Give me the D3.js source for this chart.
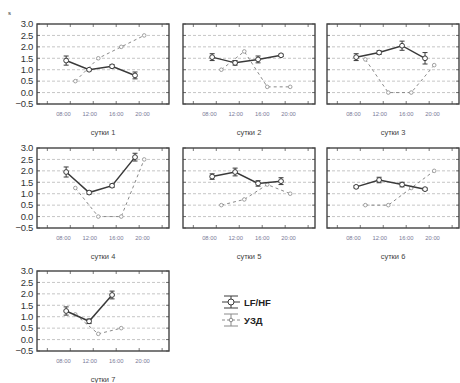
<!DOCTYPE html>
<html>
<head>
<meta charset="utf-8">
<script src="https://cdn.jsdelivr.net/npm/d3@7"></script>
<style>
  body { margin: 0; background: #fff; }
  svg { display: block; }
</style>
</head>
<body>
<div id="chart"></div>
<script>
// values
const days = ["сутки 1", "сутки 2", "сутки 3", "сутки 4", "сутки 5", "сутки 6", "сутки 7"];
const times = ["08:00", "12:00", "16:00", "20:00"];
const yTicks = [-0.5, 0, 0.5, 1.0, 1.5, 2.0, 2.5, 3.0];

const lfhf = [
  [1.4, 1.0, 1.15, 0.75],
  [1.55, 1.3, 1.45, 1.63],
  [1.55, 1.75, 2.05, 1.5],
  [1.95, 1.05, 1.35, 2.6],
  [1.75, 1.95, 1.45, 1.55],
  [1.3, 1.6, 1.4, 1.2],
  [1.25, 0.8, 1.95, null]
];
const lfhfErr = [
  [0.2, 0.05, 0.07, 0.15],
  [0.15, 0.1, 0.15, 0.05],
  [0.15, 0.08, 0.2, 0.25],
  [0.22, 0.07, 0.07, 0.17],
  [0.12, 0.17, 0.12, 0.15],
  [0.05, 0.12, 0.1, 0.05],
  [0.18, 0.1, 0.17, null]
];
const uzd = [
  [0.5, 1.5, 2.0, 2.5],
  [1.0, 1.8, 0.25, 0.25],
  [1.45, 0.0, 0.0, 1.2],
  [1.25, 0.0, 0.0, 2.5],
  [0.5, 0.75, 1.4, 1.0],
  [0.5, 0.5, 1.25, 2.0],
  [1.1, 0.25, 0.5, null]
];
const legendLabels = ["LF/HF", "УЗД"];

const W = 460, H = 383;
const panelLeft = [37, 183, 327];
const panelTop = [24, 148, 271];
const pw = 132, ph = 80;

const svg = d3.select("#chart").append("svg")
  .attr("width", W).attr("height", H)
  .attr("font-family", "Liberation Sans, Arial, sans-serif");

svg.append("text").attr("x", 8).attr("y", 15)
  .attr("font-size", 6).attr("fill", "#333").text("s");

const x = d3.scaleLinear().domain([-1.45, 4.3]).range([0, pw]);
const xLab = d3.scalePoint().domain(times).range([x(-0.3), x(3.15)]);
const y = d3.scaleLinear().domain([-0.5, 3.0]).range([ph, 0]);

const solidLine = d3.line()
  .defined(d => d.v != null)
  .x(d => x(d.i - 0.18)).y(d => y(d.v));
const dashLine = d3.line()
  .defined(d => d.v != null)
  .x(d => x(d.i + 0.22)).y(d => y(d.v));

days.forEach((day, k) => {
  const col = k % 3, row = Math.floor(k / 3);
  const g = svg.append("g")
    .attr("transform", `translate(${panelLeft[col]},${panelTop[row]})`);

  // grid
  g.append("g").selectAll("line")
    .data(yTicks.filter(t => t > -0.5 && t < 3.0))
    .join("line")
    .attr("x1", 0).attr("x2", pw)
    .attr("y1", d => y(d)).attr("y2", d => y(d))
    .attr("stroke", "#b8b8b8").attr("stroke-width", 0.8)
    .attr("stroke-dasharray", "3,2");

  // inner ticks on all sides
  const tk = g.append("g").attr("stroke", "#555").attr("stroke-width", 0.8);
  yTicks.forEach(t => {
    tk.append("line").attr("x1", 0).attr("x2", 3).attr("y1", y(t)).attr("y2", y(t));
    tk.append("line").attr("x1", pw - 3).attr("x2", pw).attr("y1", y(t)).attr("y2", y(t));
  });
  [-1, 0, 1, 2, 3, 4].forEach(t => {
    tk.append("line").attr("x1", x(t)).attr("x2", x(t)).attr("y1", 0).attr("y2", 3);
    tk.append("line").attr("x1", x(t)).attr("x2", x(t)).attr("y1", ph - 3).attr("y2", ph);
  });

  g.append("rect").attr("width", pw).attr("height", ph)
    .attr("fill", "none").attr("stroke", "#444").attr("stroke-width", 1.4);

  if (col === 0) {
    g.append("g").selectAll("text").data(yTicks).join("text")
      .attr("x", -4).attr("y", d => y(d) + 3.3)
      .attr("text-anchor", "end").attr("font-size", 9.5).attr("fill", "#333")
      .attr("letter-spacing", -0.3)
      .text(d3.format(".1f"));
  }

  g.append("g").selectAll("text").data(times).join("text")
    .attr("x", d => xLab(d)).attr("y", ph + 12)
    .attr("text-anchor", "middle").attr("font-size", 5.8).attr("fill", "#7a7a98")
    .text(d => d);

  g.append("text").attr("x", pw / 2).attr("y", ph + 31)
    .attr("text-anchor", "middle").attr("font-size", 7.5).attr("fill", "#444")
    .text(day);

  const sd = lfhf[k].map((v, i) => ({ v, i, e: lfhfErr[k][i] }));
  const dd = uzd[k].map((v, i) => ({ v, i }));

  g.append("path").datum(dd).attr("d", dashLine)
    .attr("fill", "none").attr("stroke", "#8a8a8a").attr("stroke-width", 1)
    .attr("stroke-dasharray", "3,3");
  g.append("g").selectAll("circle").data(dd.filter(d => d.v != null)).join("circle")
    .attr("cx", d => x(d.i + 0.22)).attr("cy", d => y(d.v)).attr("r", 1.8)
    .attr("fill", "#fff").attr("stroke", "#8a8a8a").attr("stroke-width", 0.8);

  g.append("path").datum(sd).attr("d", solidLine)
    .attr("fill", "none").attr("stroke", "#3a3a3a").attr("stroke-width", 1.5);

  const eb = g.append("g").attr("stroke", "#3a3a3a").attr("stroke-width", 1)
    .selectAll("g").data(sd.filter(d => d.v != null)).join("g");
  eb.append("line")
    .attr("x1", d => x(d.i - 0.18)).attr("x2", d => x(d.i - 0.18))
    .attr("y1", d => y(d.v + d.e)).attr("y2", d => y(d.v - d.e));
  eb.append("line")
    .attr("x1", d => x(d.i - 0.18) - 2.5).attr("x2", d => x(d.i - 0.18) + 2.5)
    .attr("y1", d => y(d.v + d.e)).attr("y2", d => y(d.v + d.e));
  eb.append("line")
    .attr("x1", d => x(d.i - 0.18) - 2.5).attr("x2", d => x(d.i - 0.18) + 2.5)
    .attr("y1", d => y(d.v - d.e)).attr("y2", d => y(d.v - d.e));
  eb.append("circle")
    .attr("cx", d => x(d.i - 0.18)).attr("cy", d => y(d.v)).attr("r", 2.4)
    .attr("fill", "#fff");
});

// legend
const lg = svg.append("g").attr("transform", "translate(222,302)");
legendLabels.forEach((lab, i) => {
  const c = i === 0 ? "#3a3a3a" : "#8a8a8a";
  const r = lg.append("g").attr("transform", `translate(0,${i * 18})`)
    .attr("stroke", c).attr("stroke-width", 1);
  r.append("line").attr("x1", 2).attr("x2", 16).attr("y1", -6).attr("y2", -6);
  r.append("line").attr("x1", 2).attr("x2", 16).attr("y1", 6).attr("y2", 6);
  r.append("line").attr("x1", 9).attr("x2", 9).attr("y1", -6).attr("y2", 6);
  r.append("line").attr("x1", 0).attr("x2", 18).attr("y1", 0).attr("y2", 0)
    .attr("stroke-dasharray", i === 0 ? null : "3,2");
  r.append("circle").attr("cx", 9).attr("cy", 0).attr("r", i === 0 ? 3 : 1.8).attr("fill", "#fff");
  lg.append("text").attr("x", 22).attr("y", i * 18 + 3.5)
    .attr("font-size", 9.5).attr("font-weight", "bold").attr("fill", "#222")
    .text(lab);
});
</script>
</body>
</html>
